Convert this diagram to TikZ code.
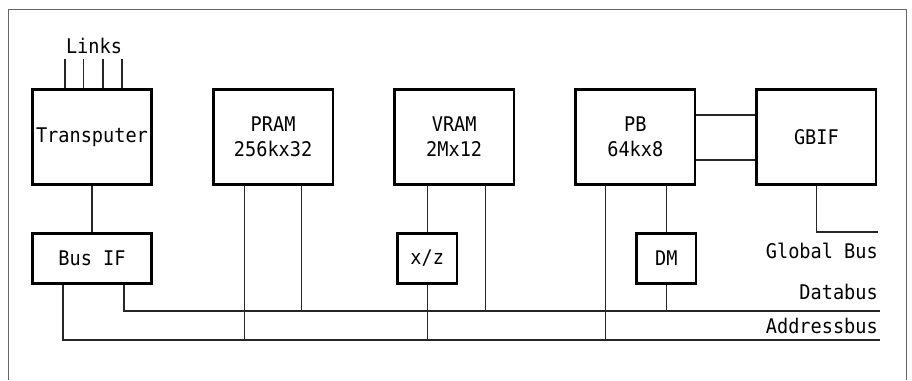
\documentclass[tikz,border=0pt]{standalone}
\usepackage{fontspec}
\setmainfont[FakeStretch=0.92]{DejaVu Sans Mono}
\usetikzlibrary{positioning}

\begin{document}
\begin{tikzpicture}[
    x=1pt, y=1pt,
    font=\fontsize{20.2}{25}\selectfont,
    node distance=46pt and 59pt,
    % Box Styles
    unit/.style={
        rectangle, draw=black, line width=2.6pt, inner sep=0pt,
        minimum width=119.5pt, minimum height=95.5pt, align=center
    },
    iface/.style={unit, minimum height=50pt},
    helper/.style={iface, minimum width=59.5pt},
    % Line Styles
    wire/.style={draw=black!85, line width=1.1pt},
    frameLine/.style={draw=black!60, line width=0.9pt},
    busName/.style={anchor=base east, inner sep=0pt}
]
    \useasboundingbox (0,0) rectangle (912,-380);

    % --- FRAME ---
    \draw[frameLine] (8,-380) -- (8,-9) -- (906,-9) -- (906,-380);

    % --- UNITS ---
    \node[unit] (trans) at (92,-137) {Transputer};
    \node[unit, right=of trans] (pram) {PRAM\\256kx32};
    \node[unit, right=of pram] (vram) {VRAM\\2Mx12};
    \node[unit, right=of vram] (pb) {PB\\64kx8};
    \node[unit, right=of pb] (gbif) {GBIF};

    % --- INTERFACES ---
    \node[iface, below=of trans] (busif) {Bus IF};
    \node[helper, below=of vram, xshift=-27pt] (xz) {x/z};
    \node[helper, below=of pb, xshift=31pt] (dm) {DM};

    % --- LABELS ---
    \node[anchor=base, inner sep=0pt] (links) at (94,-53) {Links};
    \node[busName] (gbName) at (878,-258) {Global Bus};
    \node[busName] (dbName) at (878,-299) {Databus};
    \node[busName] (abName) at (878,-333) {Addressbus};

    % --- BUS ENDS ---
    \coordinate (linkTop) at (0,-59);
    \coordinate (gbEnd) at (878,-232);
    \coordinate (dbEnd) at (880,-311);
    \coordinate (abEnd) at (880,-340);

    % --- WIRES ---
    % Links
    \foreach \dx in {-27,-8.5,11,30} {
        \draw[wire] ([xshift=\dx pt]trans.north) -- ([xshift=\dx pt]trans.north |- linkTop);
    }
    \draw[wire] (trans) -- (busif);

    % Address and data bus
    \draw[wire] ([xshift=-29pt]busif.south) |- (abEnd);
    \draw[wire] ([xshift=32pt]busif.south) |- (dbEnd);
    \draw[wire] ([xshift=-28.5pt]pram.south) -- ([xshift=-28.5pt]pram.south |- abEnd);
    \draw[wire] ([xshift=28.5pt]pram.south) -- ([xshift=28.5pt]pram.south |- dbEnd);
    \draw[wire] (xz.north |- vram.south) -- (xz.north);
    \draw[wire] (xz.south) -- (xz.south |- abEnd);
    \draw[wire] ([xshift=31pt]vram.south) -- ([xshift=31pt]vram.south |- dbEnd);
    \draw[wire] ([xshift=-29.5pt]pb.south) -- ([xshift=-29.5pt]pb.south |- abEnd);
    \draw[wire] (dm.north |- pb.south) -- (dm.north);
    \draw[wire] (dm.south) -- (dm.south |- dbEnd);

    % PB to GBIF
    \draw[wire] ([yshift=22pt]pb.east) -- ([yshift=22pt]pb.east -| gbif.west);
    \draw[wire] ([yshift=-23pt]pb.east) -- ([yshift=-23pt]pb.east -| gbif.west);
    \draw[wire] (gbif.south) |- (gbEnd);

\end{tikzpicture}
\end{document}
